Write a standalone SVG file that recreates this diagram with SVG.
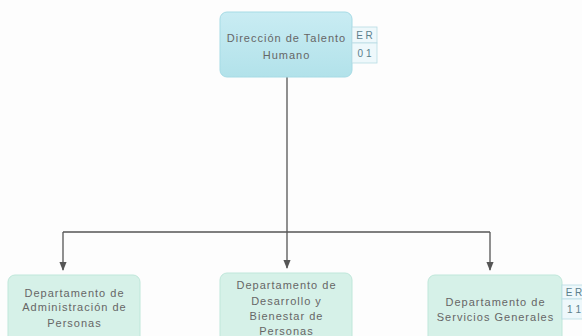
<svg xmlns="http://www.w3.org/2000/svg" width="582" height="336" viewBox="0 0 582 336">
<defs>
<linearGradient id="gTop" x1="0" y1="0" x2="0" y2="1">
<stop offset="0" stop-color="#c9ecf3"/><stop offset="1" stop-color="#b2e2ea"/>
</linearGradient>
<marker id="arr" viewBox="0 0 10 10" refX="9" refY="5" markerWidth="7" markerHeight="7" orient="auto-start-reverse">
<path d="M0,1 L10,5 L0,9 z" fill="#555"/>
</marker>
<style>
.t{font-family:"Liberation Sans",Arial,sans-serif;font-size:11px;letter-spacing:1px;fill:#666;text-anchor:middle}
.tb{font-family:"Liberation Sans",Arial,sans-serif;font-size:10px;fill:#5b7f8c;text-anchor:middle}
.top{fill:url(#gTop);stroke:#a6dbe5;stroke-width:1}
.bot{fill:#d6f1e8;stroke:#bfe7da;stroke-width:1}
.cell{fill:#eef8fb;stroke:#b7dbe4;stroke-width:0.8}
.ln{fill:none;stroke:#555;stroke-width:1.3}
</style>
</defs>
<rect width="582" height="336" fill="#fdfdfd"/>
<g id="connectors">
<path class="ln" d="M287,77 V268" marker-end="url(#arr)"/>
<path class="ln" d="M63,232 H490"/>
<path class="ln" d="M63,232 V270" marker-end="url(#arr)"/>
<path class="ln" d="M490,232 V270" marker-end="url(#arr)"/>
</g>
<g id="n-direccion">
<rect class="top" x="220" y="12" width="132" height="65" rx="7"/>
<text class="t" x="286.5" y="42">Dirección de Talento</text>
<text class="t" x="286.5" y="59">Humano</text>
<rect class="cell" x="352" y="27" width="25" height="16"/>
<rect class="cell" x="352" y="43" width="25" height="20"/>
<text class="tb" x="364.5" y="39">E R</text>
<text class="tb" x="364.5" y="57">0 1</text>
</g>
<g id="n-administracion">
<rect class="bot" x="8" y="275" width="132" height="70" rx="7"/>
<text class="t" x="74.5" y="297">Departamento de</text>
<text class="t" x="74.5" y="311">Administración de</text>
<text class="t" x="74.5" y="327">Personas</text>
</g>
<g id="n-desarrollo">
<rect class="bot" x="220" y="273" width="132" height="70" rx="7"/>
<text class="t" x="286.5" y="289">Departamento de</text>
<text class="t" x="286.5" y="305">Desarrollo y</text>
<text class="t" x="286.5" y="320">Bienestar de</text>
<text class="t" x="286.5" y="335">Personas</text>
</g>
<g id="n-servicios">
<rect class="bot" x="428" y="275" width="134" height="70" rx="7"/>
<text class="t" x="495.5" y="306">Departamento de</text>
<text class="t" x="495.5" y="321">Servicios Generales</text>
<rect class="cell" x="562" y="285" width="22" height="14"/>
<rect class="cell" x="562" y="299" width="22" height="20"/>
<text class="tb" x="574" y="296">E R</text>
<text class="tb" x="574" y="313">1 1</text>
</g>
</svg>
